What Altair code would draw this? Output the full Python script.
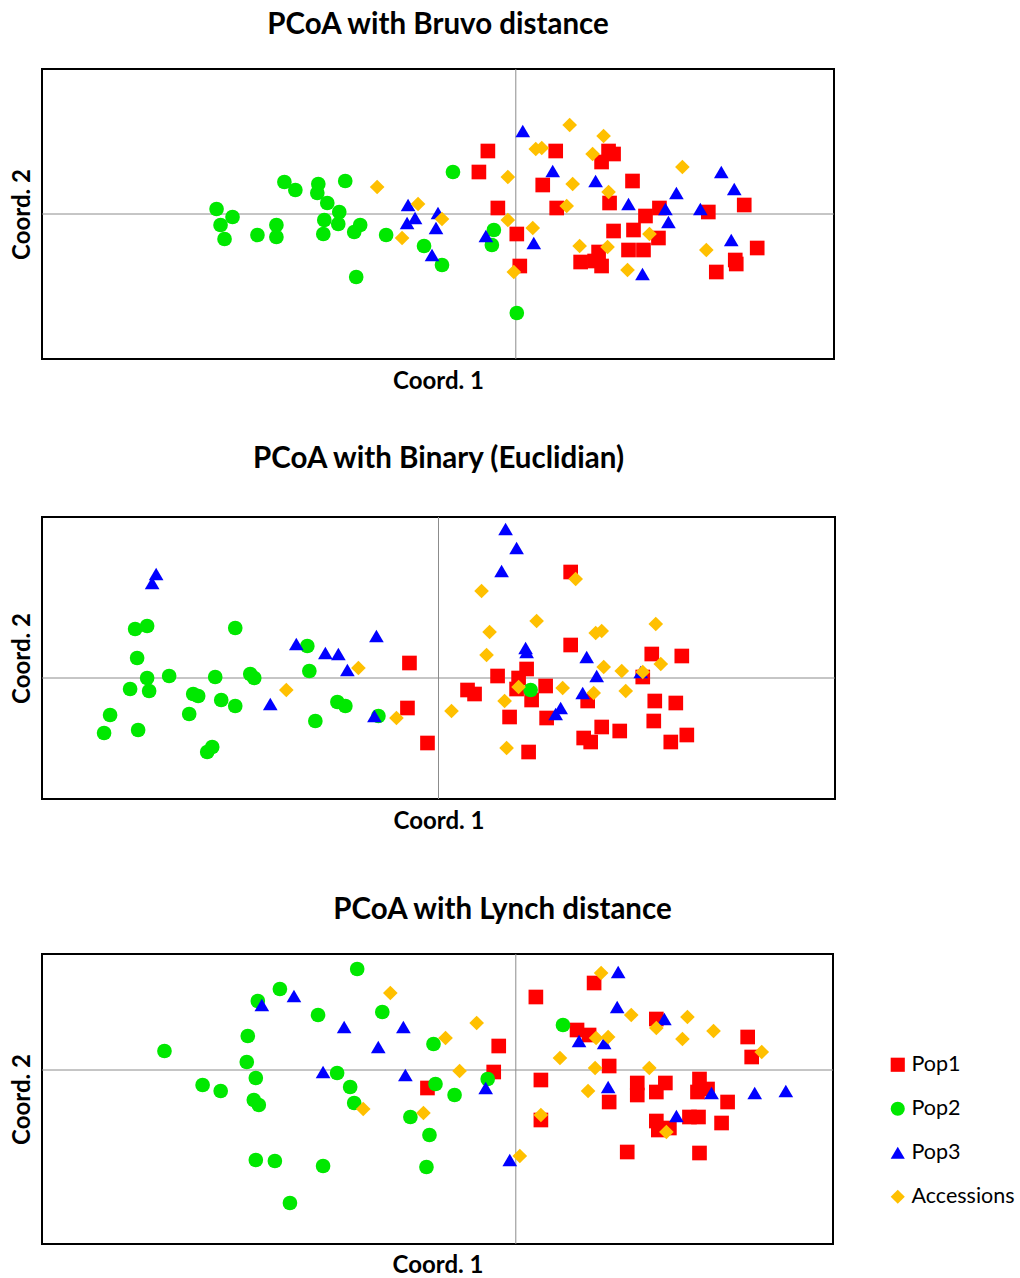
import altair as alt
import pandas as pd

GROUPS = ["Pop1", "Pop2", "Pop3", "Accessions"]
COLORS = ["#ff0000", "#00e800", "#0000ff", "#ffc000"]
SHAPES = ["square", "circle", "triangle-up", "diamond"]

# ---------------- Panel 1: Bruvo distance ----------------
b_pop1_x = [-0.28, -0.37, -0.18, 0.01, 0.04, 0.40, 0.27, 0.41, 0.93, 0.98, 0.86, 1.17, 0.94, 1.30, 1.44,
            0.98, 1.18, 1.43, 1.13, 1.28, 0.83, 0.65, 0.79, 0.86, 1.93, 2.29, 2.42, 2.20, 2.21, 2.01]
b_pop1_y = [0.63, 0.42, 0.06, -0.20, -0.52, 0.63, 0.29, 0.06, 0.63, 0.60, 0.52, 0.33, 0.11, -0.02, 0.06,
            -0.17, -0.16, -0.24, -0.36, -0.36, -0.38, -0.48, -0.47, -0.52, 0.02, 0.09, -0.34, -0.46, -0.50, -0.58]
b_pop2_x = [-3.00, -2.84, -2.96, -2.92, -2.59, -2.40, -2.40, -2.32, -2.21, -1.98, -1.99, -1.89, -1.71, -1.77,
            -1.92, -1.78, -1.93, -1.56, -1.62, -1.30, -1.60, -0.92, -0.74, -0.63, -0.22, -0.24, 0.01]
b_pop2_y = [0.05, -0.03, -0.11, -0.25, -0.21, -0.11, -0.23, 0.32, 0.24, 0.30, 0.21, 0.11, 0.33, 0.02,
            -0.06, -0.10, -0.20, -0.11, -0.18, -0.21, -0.63, -0.32, -0.51, 0.42, -0.16, -0.31, -0.99]
b_pop3_x = [-1.08, -1.01, -1.09, -0.78, -0.80, -0.84, -0.30, 0.07, 0.37, 0.80, 0.18, 1.13, 1.61, 1.50,
            1.53, 1.85, 2.06, 2.19, 2.16, 1.27]
b_pop3_y = [0.09, -0.04, -0.09, 0.01, -0.14, -0.41, -0.22, 0.83, 0.43, 0.33, -0.29, 0.10, 0.21, 0.05,
            -0.08, 0.05, 0.42, 0.25, -0.26, -0.60]
b_acc_x = [-1.39, -0.98, -0.74, -1.14, -0.08, -0.08, -0.02, 0.54, 0.88, 0.20, 0.26, 0.77, 0.57, 0.93,
           0.51, 0.17, 0.64, 0.92, 1.12, 1.34, 1.67, 1.91]
b_acc_y = [0.27, 0.10, -0.05, -0.24, 0.37, -0.06, -0.58, 0.89, 0.78, 0.65, 0.66, 0.60, 0.30, 0.22,
           0.08, -0.14, -0.32, -0.33, -0.56, -0.20, 0.47, -0.36]

# ---------------- Panel 2: Binary (Euclidian) ----------------
e_pop1_x = [-0.29, -0.31, -0.11, 1.32, 1.32, 2.13, 2.43, 0.88, 0.59, 0.80, 0.29, 0.36, 0.78, 1.07, 0.93,
            1.49, 2.04, 2.16, 2.37, 2.15, 0.71, 1.08, 1.63, 1.81, 1.45, 1.52, 2.32, 2.48, 0.90]
e_pop1_y = [0.15, -0.30, -0.65, 1.06, 0.33, 0.24, 0.22, 0.09, 0.02, 0.00, -0.12, -0.16, -0.11, -0.08, -0.22,
            -0.23, 0.01, -0.23, -0.25, -0.43, -0.39, -0.40, -0.49, -0.53, -0.60, -0.64, -0.64, -0.57, -0.74]
e_pop2_x = [-3.03, -2.91, -2.03, -3.01, -2.91, -2.69, -3.08, -2.89, -3.28, -3.34, -3.00, -2.45, -2.40, -2.49,
            -2.23, -2.17, -2.03, -2.31, -2.26, -1.88, -1.84, -1.31, -1.29, -1.01, -0.93, -1.23, -0.60, 0.92]
e_pop2_y = [0.49, 0.52, 0.50, 0.20, 0.00, 0.02, -0.11, -0.13, -0.37, -0.55, -0.52, -0.16, -0.18, -0.36,
            0.01, -0.22, -0.28, -0.74, -0.69, 0.04, 0.00, 0.32, 0.07, -0.24, -0.28, -0.43, -0.38, -0.12]
e_pop3_x = [-2.82, -2.86, -1.42, -1.13, -1.00, -0.91, -0.62, -1.68, -0.64, 0.67, 0.78, 0.63, 0.87, 0.88,
            1.48, 1.58, 1.44, 1.22, 1.17, 2.02]
e_pop3_y = [1.04, 0.95, 0.34, 0.25, 0.24, 0.08, 0.42, -0.26, -0.38, 1.49, 1.30, 1.07, 0.30, 0.26,
            0.21, 0.02, -0.15, -0.30, -0.36, 0.06]
e_acc_x = [-0.80, -1.52, -0.42, 0.13, 0.43, 1.37, 0.98, 0.51, 0.48, 1.57, 1.63, 2.17, 1.65, 1.83, 2.04,
           2.22, 0.80, 1.24, 1.55, 1.87, 0.66, 0.68]
e_acc_y = [0.10, -0.12, -0.40, -0.33, 0.87, 0.99, 0.57, 0.46, 0.23, 0.45, 0.47, 0.54, 0.11, 0.07, 0.06,
           0.14, -0.09, -0.10, -0.15, -0.13, -0.23, -0.70]

# ---------------- Panel 3: Lynch distance ----------------
l_pop1_x = [0.20, -0.17, -0.22, -0.88, 0.25, 0.25, 0.78, 0.61, 0.73, 1.40, 2.31, 2.35, 0.93, 1.21, 1.21,
            1.49, 1.40, 1.83, 1.81, 1.91, 2.11, 0.93, 1.40, 1.42, 1.53, 1.73, 1.82, 2.05, 1.11, 1.83]
l_pop1_y = [0.73, 0.24, -0.02, -0.18, -0.10, -0.50, 0.87, 0.40, 0.35, 0.51, 0.33, 0.13, 0.04, -0.13, -0.25,
            -0.13, -0.22, -0.09, -0.22, -0.19, -0.32, -0.32, -0.51, -0.60, -0.58, -0.47, -0.47, -0.53, -0.82, -0.83]
l_pop2_x = [-1.58, -2.35, -2.57, -1.97, -1.33, -2.67, -3.50, -2.68, -2.59, -3.12, -2.94, -2.61, -2.56, -1.78,
            -1.65, -1.61, -0.82, -0.80, -0.61, -1.05, -0.86, -0.28, -2.59, -2.40, -1.92, -0.89, -2.25, 0.47]
l_pop2_y = [1.01, 0.81, 0.69, 0.55, 0.58, 0.34, 0.19, 0.08, -0.08, -0.15, -0.21, -0.30, -0.35, -0.03,
            -0.17, -0.33, 0.26, -0.14, -0.25, -0.47, -0.65, -0.09, -0.90, -0.91, -0.96, -0.97, -1.33, 0.45]
l_pop3_x = [-2.53, -2.21, -1.71, -1.12, -1.37, -1.92, -1.10, -0.30, -0.06, 1.02, 1.01, 1.48, 0.63, 0.88,
            0.92, 1.60, 1.95, 2.38, 2.69]
l_pop3_y = [0.65, 0.74, 0.43, 0.43, 0.23, -0.02, -0.05, -0.18, -0.90, 0.98, 0.63, 0.51, 0.29, 0.27,
            -0.17, -0.46, -0.23, -0.23, -0.21]
l_acc_x = [-1.25, -0.39, -0.70, -0.56, -1.52, -0.92, 0.04, 0.85, 1.15, 1.71, 1.97, 1.40, 0.80, 0.92, 1.66,
           0.44, 0.79, 1.33, 2.45, 0.72, 0.25, 1.50]
l_acc_y = [0.77, 0.47, 0.32, -0.01, -0.39, -0.43, -0.86, 0.97, 0.55, 0.53, 0.39, 0.42, 0.32, 0.33, 0.31,
           0.12, 0.02, 0.02, 0.18, -0.21, -0.45, -0.62]

FONT = "Lato"


def make_df(series):
    rows = []
    for g, xs, ys in series:
        for x, y in zip(xs, ys):
            rows.append({"x": x, "y": y, "group": g})
    return pd.DataFrame(rows)


def panel(series, title, xdom, ydom, w, h, title_offset, title_dx=0, xpad=10):
    df = make_df(series)
    xs = alt.Scale(domain=xdom, nice=False, zero=False)
    ys = alt.Scale(domain=ydom, nice=False, zero=False)
    xaxis = alt.Axis(title="Coord. 1", labels=False, ticks=False, domain=False, grid=False,
                     titleFont=FONT, titleFontSize=24, titleFontWeight="bold",
                     titleColor="black", titlePadding=xpad)
    yaxis = alt.Axis(title="Coord. 2", labels=False, ticks=False, domain=False, grid=False,
                     titleFont=FONT, titleFontSize=24, titleFontWeight="bold",
                     titleColor="black", titlePadding=8)
    zero = pd.DataFrame({"z": [0.0]})
    vline = alt.Chart(zero).mark_rule(color="#8c8c8c", strokeWidth=1).encode(
        x=alt.X("z:Q", scale=xs, axis=xaxis))
    hline = alt.Chart(zero).mark_rule(color="#8c8c8c", strokeWidth=1).encode(
        y=alt.Y("z:Q", scale=ys, axis=yaxis))
    pts = alt.Chart(df).mark_point(filled=True, opacity=1, size=215, strokeWidth=0).encode(
        x=alt.X("x:Q", scale=xs, axis=xaxis),
        y=alt.Y("y:Q", scale=ys, axis=yaxis),
        color=alt.Color("group:N", scale=alt.Scale(domain=GROUPS, range=COLORS),
                        legend=alt.Legend(title=None)),
        shape=alt.Shape("group:N", scale=alt.Scale(domain=GROUPS, range=SHAPES),
                        legend=alt.Legend(title=None)),
    )
    return alt.layer(vline, hline, pts).properties(
        width=w, height=h,
        title=alt.TitleParams(title, font=FONT, fontSize=29.5, fontWeight="bold",
                              color="black", offset=title_offset, dx=title_dx, anchor="middle"),
    )


p1 = panel([("Pop1", b_pop1_x, b_pop1_y), ("Pop2", b_pop2_x, b_pop2_y),
            ("Pop3", b_pop3_x, b_pop3_y), ("Accessions", b_acc_x, b_acc_y)],
           "PCoA with Bruvo distance", [-4.75, 3.19], [-1.45, 1.45], 792, 290, 28)
p2 = panel([("Pop1", e_pop1_x, e_pop1_y), ("Pop2", e_pop2_x, e_pop2_y),
            ("Pop3", e_pop3_x, e_pop3_y), ("Accessions", e_acc_x, e_acc_y)],
           "PCoA with Binary (Euclidian)", [-3.96, 3.96], [-1.21, 1.61], 793, 282, 42)
p3 = panel([("Pop1", l_pop1_x, l_pop1_y), ("Pop2", l_pop2_x, l_pop2_y),
            ("Pop3", l_pop3_x, l_pop3_y), ("Accessions", l_acc_x, l_acc_y)],
           "PCoA with Lynch distance", [-4.72, 3.16], [-1.74, 1.16], 791, 290, 28, 65, 9)

chart = alt.vconcat(alt.vconcat(p1, p2, spacing=49), p3, spacing=60).properties(
    padding={"left": 9, "top": 9, "right": 0, "bottom": 0},
    background="white",
).configure_view(
    stroke="black", strokeWidth=2
).configure_legend(
    orient="none", legendX=845, legendY=985,
    labelFont=FONT, labelFontSize=21.5, labelColor="black",
    symbolSize=200, symbolStrokeWidth=0, rowPadding=21, labelOffset=3,
)

chart.save("out.html", embed_options={"renderer": "svg", "actions": False})
